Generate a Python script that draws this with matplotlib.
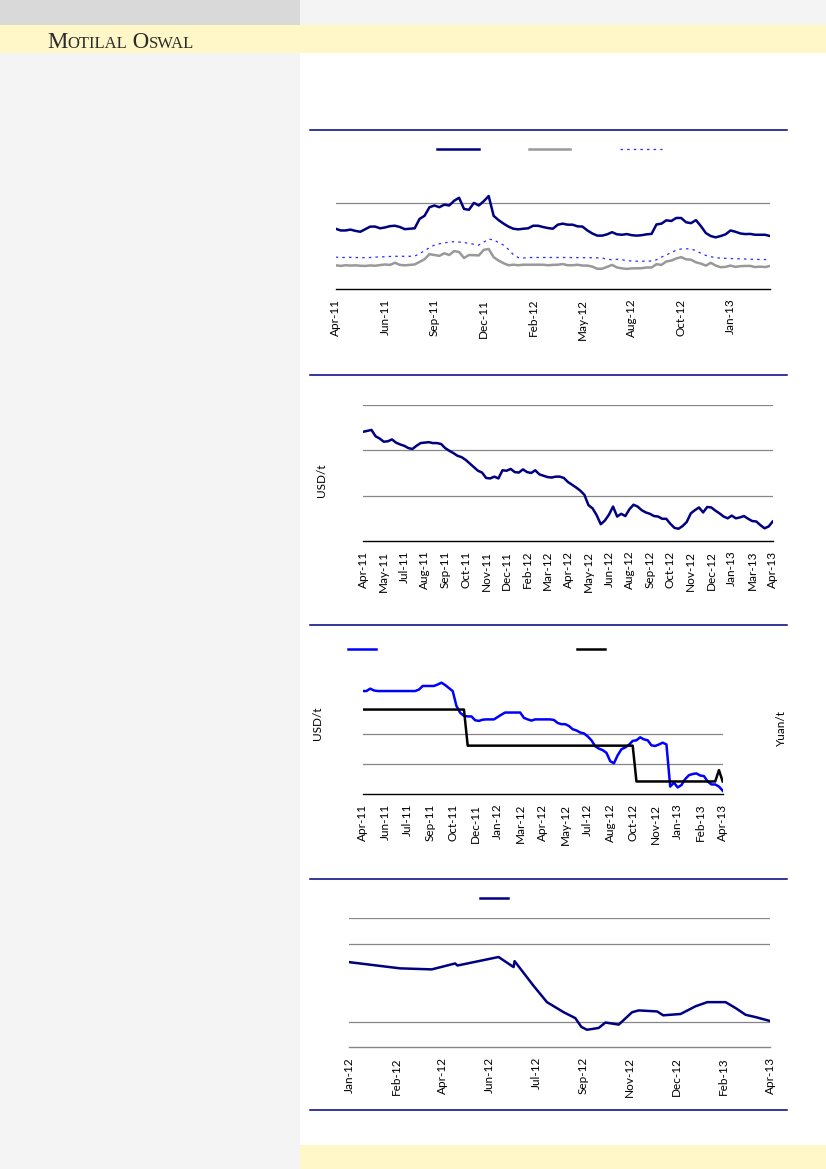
import matplotlib.pyplot as plt
from matplotlib.patches import Rectangle
from matplotlib.lines import Line2D
from matplotlib.text import Annotation

plt.rcParams.update({'font.family': 'Lato', 'font.size': 8.5})

W, H = 826, 1169

# ---------------- data ----------------
# chart 1: weekly series (three lines), ticks every 10 weeks
lbl1 = ['Apr-11', 'Jun-11', 'Sep-11', 'Dec-11', 'Feb-12', 'May-12', 'Aug-12', 'Oct-12', 'Jan-13']
s1_navy = [70, 68, 68, 69, 67.5, 66.5, 69.5, 72.5, 72.5, 70.5, 71.5, 73, 73.5, 72, 69.5, 70, 70.5,
           81.5, 85, 95, 97, 95, 98, 97, 102.5, 106, 93, 92, 100, 97, 102, 108, 85, 80, 76, 72.5,
           70, 69.3, 70, 70.5, 73.5, 73.5, 72, 70.8, 70, 74.7, 75.9, 74.7, 74.7, 72.8, 72.5, 68,
           64.5, 62, 62, 63.5, 66, 63.5, 63, 63.8, 62.5, 62, 62.5, 63.5, 64, 75, 75.9, 79.8, 79,
           82.5, 82.5, 77.5, 76.5, 80, 73, 65, 61.5, 60, 61.5, 63.5, 68, 66.5, 64.5, 63.8, 64, 63,
           63, 63, 61.5]
s1_gray = [27.6, 26.8, 27.6, 27.2, 27.5, 27, 26.8, 27.4, 27, 27.8, 28.5, 28, 30.5, 28, 27.5, 28,
           28.5, 31.5, 34.5, 40.5, 39.5, 38.5, 41.5, 39.5, 44, 43, 36, 39.5, 39.3, 39, 45.5, 46.5,
           37, 33, 30, 27.6, 28.2, 27.6, 28.2, 28.2, 28.2, 28.2, 28.2, 27.6, 28, 28.2, 29, 27.6,
           27.6, 28.2, 27.2, 27.2, 26, 23.5, 23.6, 25.7, 28, 25, 24, 23.3, 24, 24, 24.2, 25, 25,
           28.8, 28, 32, 33, 35.5, 37, 34.5, 34, 31, 29.5, 27.2, 30.4, 27.2, 25.3, 25.7, 27.2,
           25.7, 26.5, 26.8, 26.8, 25.5, 26, 25.5, 26.8]
s1_dot = [37, 36.6, 36.6, 36.8, 36.6, 36.4, 36.4, 36.6, 37, 37.4, 37.4, 37.8, 38, 38, 38, 38, 38.2,
          41, 44.5, 48, 51, 52.5, 53.5, 54.5, 55, 54.5, 54, 53, 52, 51, 54.5, 58, 57, 54, 51, 46,
          40, 36.5, 36, 36.5, 36.6, 36.6, 36.6, 36.6, 36.6, 36.6, 36.6, 36.6, 36.5, 36.5, 36.4,
          36.4, 36.3, 36.2, 36, 34.5, 34, 34.5, 34, 33, 32.5, 32.3, 32.3, 32.3, 32.5, 34, 37, 39.5,
          42.5, 45, 46.5, 46.7, 46.5, 44.5, 41.5, 39, 37.5, 36.5, 35.8, 35.6, 35.4, 35.2, 35, 34.8,
          34.6, 34.4, 34.3, 34.2, 34.2]

# chart 2: weekly price (USD/t), ticks every 5 weeks
lbl2 = ['Apr-11', 'May-11', 'Jul-11', 'Aug-11', 'Sep-11', 'Oct-11', 'Nov-11', 'Dec-11', 'Feb-12',
        'Mar-12', 'Apr-12', 'May-12', 'Jun-12', 'Aug-12', 'Sep-12', 'Oct-12', 'Nov-12', 'Dec-12',
        'Jan-13', 'Mar-13', 'Apr-13']
s2 = [241, 243, 245, 231, 226, 219, 220, 224, 217, 213, 210, 205, 203, 210, 216, 217, 218, 216,
      216, 214, 205, 199, 194, 188, 185, 179, 171, 163, 155, 151, 139, 138, 142, 138, 156, 155,
      159, 152, 151, 158, 152, 150, 156, 147, 144, 141, 140, 142, 142, 139, 130, 124, 118, 111,
      102, 79, 72, 57, 37, 45, 58, 76, 54, 60, 55, 70, 80, 76, 68, 63, 60, 55, 54, 49, 49, 38,
      29, 27, 33, 42, 61, 68, 74, 63, 75, 74, 67, 61, 54, 50, 56, 50, 52, 55, 49, 44, 43, 35,
      28, 32, 43]

# chart 3: USD/t (left) and Yuan/t (right), ticks every 6 weeks
lbl3 = ['Apr-11', 'Jun-11', 'Jul-11', 'Sep-11', 'Oct-11', 'Dec-11', 'Jan-12', 'Mar-12', 'Apr-12',
        'May-12', 'Jul-12', 'Aug-12', 'Oct-12', 'Nov-12', 'Jan-13', 'Feb-13', 'Apr-13']
s3_usd = [3.45, 3.45, 3.53, 3.47, 3.45, 3.45, 3.45, 3.45, 3.45, 3.45, 3.45, 3.45, 3.45, 3.45,
          3.45, 3.5, 3.62, 3.62, 3.62, 3.62, 3.67, 3.73, 3.65, 3.55, 3.45, 2.95, 2.72, 2.62, 2.6,
          2.6, 2.47, 2.45, 2.49, 2.5, 2.5, 2.5, 2.58, 2.66, 2.73, 2.73, 2.73, 2.73, 2.73, 2.55,
          2.5, 2.46, 2.5, 2.5, 2.5, 2.5, 2.5, 2.48, 2.38, 2.34, 2.34, 2.28, 2.17, 2.13, 2.06,
          2.03, 1.93, 1.8, 1.6, 1.52, 1.47, 1.38, 1.1, 1.03, 1.3, 1.5, 1.56, 1.65, 1.78, 1.8, 1.9,
          1.83, 1.8, 1.63, 1.61, 1.66, 1.72, 1.66, 0.25, 0.38, 0.22, 0.3, 0.5, 0.63, 0.67, 0.69,
          0.62, 0.6, 0.42, 0.32, 0.32, 0.25, 0.11]
s3_yuan = [2.83] * 28 + [1.62] * 45 + [0.42] * 22 + [0.8, 0.42]

# chart 4: irregular observations (x in weeks from Jan-12), ticks every 7 weeks
lbl4 = ['Jan-12', 'Feb-12', 'Apr-12', 'Jun-12', 'Jul-12', 'Sep-12', 'Nov-12', 'Dec-12', 'Feb-13', 'Apr-13']
x4 = [0, 7.6, 12.35, 15.85, 16.2, 22.35, 24.6, 24.75, 27.6, 29.6, 32.1, 33.85, 34.75, 35.6,
      37.35, 38.35, 40.35, 42.35, 43.35, 46.1, 47, 49.6, 51.85, 53.6, 56.35, 57.85, 59.35, 60.85, 63]
s4 = [3.30, 3.06, 3.02, 3.25, 3.17, 3.50, 3.11, 3.34, 2.38, 1.75, 1.36, 1.13, 0.79, 0.68, 0.75,
      0.96, 0.88, 1.36, 1.43, 1.39, 1.24, 1.29, 1.59, 1.75, 1.75, 1.52, 1.26, 1.17, 1.02]

navy = '#000080'
grid_c = '#868686'


def box(x0, y0, x1, y1):
    # pixel box (from top-left) -> figure fraction rect
    return [x0 / W, 1 - y1 / H, (x1 - x0) / W, (y1 - y0) / H]


def style(ax, yticks, bottom_color='black'):
    for s in ['top', 'left', 'right']:
        ax.spines[s].set_visible(False)
    ax.spines['bottom'].set_color(bottom_color)
    ax.spines['bottom'].set_linewidth(1.0)
    ax.set_yticks(yticks)
    ax.set_yticklabels([])
    ax.tick_params(axis='y', length=0)
    ax.tick_params(axis='x', length=0, pad=7, labelsize=8.5, labelrotation=90)
    ax.grid(axis='y', color=grid_c, linewidth=0.9)
    ax.set_axisbelow(True)
    ax.patch.set_alpha(0)


fig = plt.figure(figsize=(W / 100, H / 100), dpi=100)

# page background blocks
for (x0, y0, x1, y1, c) in [(0, 0, 300, 25, '#d9d9d9'), (300, 0, 826, 25, '#f4f4f4'),
                            (0, 25, 826, 53, '#fff7c8'), (0, 53, 300, 1169, '#f4f4f4'),
                            (300, 1145, 826, 1169, '#fff7c8')]:
    r = box(x0, y0, x1, y1)
    fig.patches.append(Rectangle((r[0], r[1]), r[2], r[3], transform=fig.transFigure,
                                 facecolor=c, edgecolor='none', zorder=0))

# section rules
for yy in [130, 375, 625, 879, 1110]:
    fig.lines.append(Line2D([310 / W, 787 / W], [1 - yy / H] * 2, transform=fig.transFigure,
                            color=navy, linewidth=1.1))

# logo in small caps
prev = fig.text(47 / W, 1 - 47.5 / H, 'M', fontsize=16.5, family='Liberation Serif', color='#2a2a2a')
for txt, fs in [('OTILAL', 12), (' O', 16.5), ('SWAL', 12)]:
    prev = fig.add_artist(Annotation(txt, xy=(1, 0), xycoords=prev, va='bottom', ha='left',
                                     fontsize=fs, family='Liberation Serif', color='#2a2a2a',
                                     annotation_clip=False))

# ---------------- chart 1 ----------------
ax1 = fig.add_axes(box(335.7, 190, 770, 289))
n1 = len(s1_navy)
l1, = ax1.plot(range(n1), s1_navy, color=navy, lw=1.8)
l2, = ax1.plot(range(n1), s1_gray, color='#999999', lw=1.8)
l3, = ax1.plot(range(n1), s1_dot, color='#2b2bff', lw=0.9, linestyle=(0, (2, 3.3)))
ax1.set_xlim(0, n1 - 1)
ax1.set_ylim(0, 115)
style(ax1, [100])
ax1.set_xticks(range(0, 10 * len(lbl1), 10))
ax1.set_xticklabels(lbl1)
fig.legend([l1, l2, l3], ['', '', ''], ncol=3, loc='center left', frameon=False, fontsize=7.5,
           bbox_to_anchor=(437 / W, 1 - 150 / H), borderpad=0, borderaxespad=0,
           handlelength=4.0, handletextpad=0.4, columnspacing=4.4)

# ---------------- chart 2 ----------------
ax2 = fig.add_axes(box(363.3, 405, 772.7, 541))
ax2.plot(range(len(s2)), s2, color=navy, lw=1.8)
ax2.set_xlim(0, len(s2) - 1)
ax2.set_ylim(0, 300)
style(ax2, [100, 200, 300])
ax2.set_xticks(range(0, 5 * len(lbl2), 5))
ax2.set_xticklabels(lbl2)
ax2.set_ylabel('USD/t', fontsize=8.5)
ax2.yaxis.set_label_coords(-0.089, 0.45)

# ---------------- chart 3 ----------------
ax3 = fig.add_axes(box(362.7, 680.6, 722.7, 794))
b1, = ax3.plot(range(len(s3_usd)), s3_usd, color='#0000ff', lw=1.8)
ax3.set_xlim(0, len(s3_usd) - 1)
ax3.set_ylim(0, 3.8)
style(ax3, [1, 2])
ax3.set_xticks(range(0, 6 * len(lbl3), 6))
ax3.set_xticklabels(lbl3)
ax3.set_ylabel('USD/t', fontsize=8.5)
ax3.yaxis.set_label_coords(-0.111, 0.626)
ax3r = ax3.twinx()
b2, = ax3r.plot(range(len(s3_yuan)), s3_yuan, color='black', lw=1.8)
ax3r.set_ylim(0, 3.8)
for s in ax3r.spines.values():
    s.set_visible(False)
ax3r.set_yticks([])
ax3r.set_ylabel('Yuan/t', fontsize=8.5)
ax3r.yaxis.set_label_coords(1.148, 0.582)
fig.legend([b1, b2], ['', ''], ncol=2, loc='center left', frameon=False, fontsize=7.5,
           bbox_to_anchor=(348 / W, 1 - 649.7 / H), borderpad=0, borderaxespad=0,
           handlelength=2.7, handletextpad=0.4, columnspacing=18.9)

# ---------------- chart 4 ----------------
ax4 = fig.add_axes(box(349.3, 918.3, 770, 1047.3))
c1, = ax4.plot(x4, s4, color=navy, lw=1.8)
ax4.set_xlim(0, 7 * (len(lbl4) - 1))
ax4.set_ylim(0, 5)
style(ax4, [1, 4, 5], bottom_color=grid_c)
ax4.set_xticks(range(0, 7 * len(lbl4), 7))
ax4.set_xticklabels(lbl4)
fig.legend([c1], [''], loc='center left', frameon=False, fontsize=7.5,
           bbox_to_anchor=(480 / W, 1 - 899 / H), borderpad=0, borderaxespad=0,
           handlelength=2.7, handletextpad=0.4)

fig.savefig('out.png', dpi=100)
